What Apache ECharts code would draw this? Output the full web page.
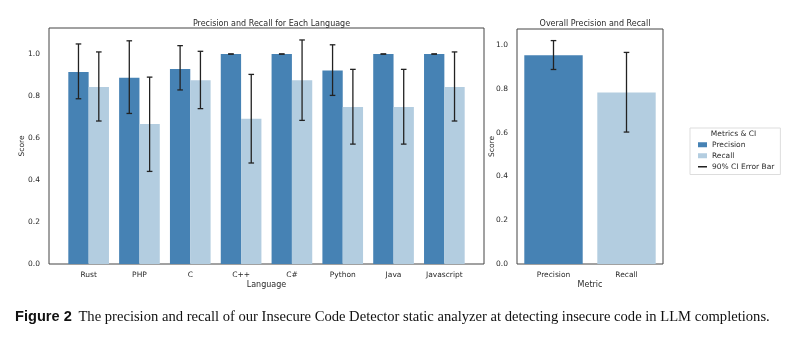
<!DOCTYPE html>
<html>
<head>
<meta charset="utf-8">
<script src="https://cdn.jsdelivr.net/npm/echarts@6/dist/echarts.min.js"></script>
<style>html,body{margin:0;padding:0;background:#fff;}#chart{width:800px;height:351px;}</style>
</head>
<body>
<div id="chart"></div>
<script>
const languages = ['Rust', 'PHP', 'C', 'C++', 'C#', 'Python', 'Java', 'Javascript'];
const precision = [0.914, 0.887, 0.929, 1.0, 1.0, 0.921, 1.0, 1.0];
const precisionLow = [0.787, 0.717, 0.829, 1.0, 1.0, 0.803, 1.0, 1.0];
const precisionHigh = [1.048, 1.063, 1.040, 1.0, 1.0, 1.044, 1.0, 1.0];
const recall = [0.843, 0.667, 0.875, 0.692, 0.875, 0.748, 0.748, 0.843];
const recallLow = [0.681, 0.441, 0.740, 0.481, 0.684, 0.571, 0.571, 0.681];
const recallHigh = [1.010, 0.890, 1.013, 0.903, 1.067, 0.927, 0.927, 1.010];
const metrics = ['Precision', 'Recall'];
const overall = [0.954, 0.784];
const overallLow = [0.889, 0.603];
const overallHigh = [1.021, 0.967];
const yTicks = [0, 0.2, 0.4, 0.6, 0.8, 1.0];

const DARK = '#4682b4';
const LIGHT = '#b3cde0';
const FONT = 'DejaVu Sans';
const TXT = '#2a2a2a';

const chart = echarts.init(document.getElementById('chart'), null, {renderer: 'canvas'});

function errRender(offsetUnits, capPx) {
  return function (params, api) {
    const x = api.value(0), lo = api.value(1), hi = api.value(2);
    const off = api.size([Math.abs(offsetUnits), 0])[0] * Math.sign(offsetUnits);
    const pLo = api.coord([x, lo]);
    const pHi = api.coord([x, hi]);
    const cx = pLo[0] + off;
    const style = {stroke: '#222', lineWidth: 1.3};
    return {
      type: 'group',
      children: [
        {type: 'line', shape: {x1: cx, y1: pLo[1], x2: cx, y2: pHi[1]}, style},
        {type: 'line', shape: {x1: cx - capPx, y1: pLo[1], x2: cx + capPx, y2: pLo[1]}, style},
        {type: 'line', shape: {x1: cx - capPx, y1: pHi[1], x2: cx + capPx, y2: pHi[1]}, style}
      ]
    };
  };
}

const axisLabelY = {
  color: TXT, fontFamily: FONT, fontSize: 7.5, margin: 9,
  showMaxLabel: false,
  formatter: v => yTicks.some(t => Math.abs(t - v) < 1e-9) ? v.toFixed(1) : ''
};

const option = {
  backgroundColor: '#fff',
  animation: false,
  title: [
    {text: 'Precision and Recall for Each Language', left: 266.5, top: 15, textAlign: 'center',
     textStyle: {fontFamily: FONT, fontSize: 8, fontWeight: 'normal', color: TXT}},
    {text: 'Overall Precision and Recall', left: 590, top: 15, textAlign: 'center',
     textStyle: {fontFamily: FONT, fontSize: 8, fontWeight: 'normal', color: TXT}}
  ],
  grid: [
    {left: 49, top: 28, width: 435, height: 236, show: true, borderColor: '#444', borderWidth: 1, backgroundColor: 'transparent'},
    {left: 517, top: 29, width: 146, height: 235, show: true, borderColor: '#444', borderWidth: 1, backgroundColor: 'transparent'}
  ],
  xAxis: [
    {type: 'value', gridIndex: 0, min: -0.78, max: 7.78,
     name: 'Language', nameLocation: 'middle', nameGap: 17, nameMoveOverlap: false,
     nameTextStyle: {fontFamily: FONT, fontSize: 8, color: TXT},
     axisLine: {show: false}, axisTick: {show: false}, splitLine: {show: false},
     axisLabel: {customValues: languages.map((_, i) => i), formatter: v => languages[Math.round(v)] || '',
                 color: TXT, fontFamily: FONT, fontSize: 7.5, margin: 7}},
    {type: 'category', gridIndex: 1, data: metrics,
     name: 'Metric', nameLocation: 'middle', nameGap: 17, nameMoveOverlap: false,
     nameTextStyle: {fontFamily: FONT, fontSize: 8, color: TXT},
     axisLine: {show: false}, axisTick: {show: false}, splitLine: {show: false},
     axisLabel: {color: TXT, fontFamily: FONT, fontSize: 7.5, margin: 7}}
  ],
  yAxis: [
    {type: 'value', gridIndex: 0, min: 0, max: 1.124, interval: 0.2,
     name: 'Score', nameLocation: 'middle', nameGap: 23, nameMoveOverlap: false,
     nameTextStyle: {fontFamily: FONT, fontSize: 7.5, color: TXT},
     axisLine: {show: false}, axisTick: {show: false}, splitLine: {show: false},
     axisLabel: axisLabelY},
    {type: 'value', gridIndex: 1, min: 0, max: 1.074, interval: 0.2,
     name: 'Score', nameLocation: 'middle', nameGap: 21, nameMoveOverlap: false,
     nameTextStyle: {fontFamily: FONT, fontSize: 7.5, color: TXT},
     axisLine: {show: false}, axisTick: {show: false}, splitLine: {show: false},
     axisLabel: axisLabelY}
  ],
  legend: {
    orient: 'vertical', left: 690, top: 128,
    padding: [12, 6, 3, 8], itemGap: 1.5, itemWidth: 9, itemHeight: 5,
    borderColor: '#ddd', borderWidth: 1, backgroundColor: '#fff',
    textStyle: {fontFamily: FONT, fontSize: 7.5, color: TXT, lineHeight: 9.5},
    data: [
      {name: 'Precision', icon: 'rect'},
      {name: 'Recall', icon: 'rect'},
      {name: '90% CI Error Bar', icon: 'path://M0,0H7V1.2H0Z'}
    ]
  },
  graphic: [
    {type: 'text', x: 733.5, y: 130, z: 100,
     style: {text: 'Metrics & CI', font: '7.5px "DejaVu Sans"', fill: TXT, textAlign: 'center'}},
    {type: 'text', x: 15, y: 317, z: 100,
     style: {
       text: '{b|Figure 2}  {n|The precision and recall of our Insecure Code Detector static analyzer at detecting insecure code in LLM completions.}',
       verticalAlign: 'middle',
       rich: {
         b: {fontFamily: 'Liberation Sans', fontWeight: 'bold', fontSize: 14.6, fill: '#111'},
         n: {fontFamily: 'Liberation Serif', fontSize: 14.6, fill: '#111'}
       }
     }}
  ],
  series: [
    {name: 'Precision', type: 'bar', xAxisIndex: 0, yAxisIndex: 0, barWidth: '40%', barGap: '0%',
     itemStyle: {color: DARK}, data: precision.map((v, i) => [i, v])},
    {name: 'Recall', type: 'bar', xAxisIndex: 0, yAxisIndex: 0, barWidth: '40%', barGap: '0%',
     itemStyle: {color: LIGHT}, data: recall.map((v, i) => [i, v])},
    {name: '90% CI Error Bar', type: 'custom', xAxisIndex: 0, yAxisIndex: 0, itemStyle: {color: '#222'},
     renderItem: errRender(-0.2, 2.8), z: 10,
     data: precision.map((v, i) => [i, precisionLow[i], precisionHigh[i]])},
    {name: '90% CI Error Bar', type: 'custom', xAxisIndex: 0, yAxisIndex: 0, itemStyle: {color: '#222'},
     renderItem: errRender(0.2, 2.8), z: 10,
     data: recall.map((v, i) => [i, recallLow[i], recallHigh[i]])},
    {name: 'Overall', type: 'bar', xAxisIndex: 1, yAxisIndex: 1, barWidth: '80%',
     data: overall.map((v, i) => ({value: v, itemStyle: {color: i === 0 ? DARK : LIGHT}}))},
    {name: '90% CI Error Bar', type: 'custom', xAxisIndex: 1, yAxisIndex: 1, itemStyle: {color: '#222'},
     renderItem: errRender(0, 2.8), z: 10,
     data: overall.map((v, i) => [i, overallLow[i], overallHigh[i]])}
  ]
};
chart.setOption(option);
</script>
</body>
</html>
